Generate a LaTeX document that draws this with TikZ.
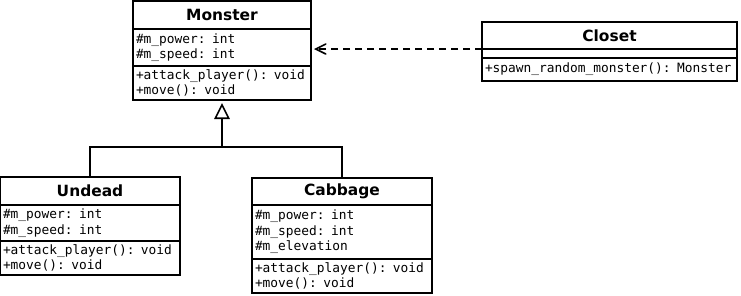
\documentclass[tikz,border=0pt]{standalone}
\usepackage{fontspec}
\newfontfamily\umlsans{DejaVu Sans}
\newfontfamily\umlmono{DejaVu Sans Mono}
\usetikzlibrary{arrows.meta}

\tikzset{
  % one compartment of a class box: title, attributes or operations
  compart/.style={draw, line width=1.6bp, outer sep=0pt, inner xsep=3bp,
    inner ysep=0pt, anchor=north west},
  classtitle/.style={compart, align=center,
    font=\umlsans\bfseries\fontsize{15.5}{18}\selectfont},
  members/.style={compart, align=left,
    font=\umlmono\fontsize{12.9}{15.5}\selectfont},
  conn/.style={line width=1.6bp},
  inherit/.style={conn, -{Triangle[open, length=16bp, width=15.5bp]}, shorten >=3bp},
  depends/.style={conn, dash pattern=on 7bp off 5bp,
    -{Straight Barb[length=10bp, width=10bp, line cap=round]}, shorten >=3bp},
}

\begin{document}
\begin{tikzpicture}[x=1bp, y=-1bp]
\useasboundingbox (0,0) rectangle (741,295);

% Monster
\node[classtitle, text width=172bp, minimum height=28bp] (monster) at (133,1) {Monster};
\node[members, text width=172bp, minimum height=37bp] (monster-a) at (monster.south west)
  {\#m\_power: int\\\#m\_speed: int};
\node[members, text width=172bp, minimum height=34bp] (monster-m) at (monster-a.south west)
  {+attack\_player(): void\\+move(): void};

% Closet
\node[classtitle, text width=249bp, minimum height=27bp] (closet) at (482,22) {Closet};
\node[members, text width=249bp, minimum height=9bp] (closet-a) at (closet.south west) {};
\node[members, text width=249bp, minimum height=23bp] (closet-m) at (closet-a.south west)
  {+spawn\_random\_monster(): Monster};

% Undead
\node[classtitle, text width=174bp, minimum height=28bp] (undead) at (0,177) {Undead};
\node[members, text width=174bp, minimum height=36bp] (undead-a) at (undead.south west)
  {\#m\_power: int\\\#m\_speed: int};
\node[members, text width=174bp, minimum height=34bp] (undead-m) at (undead-a.south west)
  {+attack\_player(): void\\+move(): void};

% Cabbage
\node[classtitle, text width=174bp, minimum height=27bp] (cabbage) at (252,178) {Cabbage};
\node[members, text width=174bp, minimum height=54bp] (cabbage-a) at (cabbage.south west)
  {\#m\_power: int\\\#m\_speed: int\\\#m\_elevation};
\node[members, text width=174bp, minimum height=34bp] (cabbage-m) at (cabbage-a.south west)
  {+attack\_player(): void\\+move(): void};

% generalization: Undead and Cabbage derive from Monster
\coordinate (bus) at (monster-m.south |- 0,147);
\draw[conn] (undead.north) |- (bus) -| (cabbage.north);
\draw[inherit] (bus) -- (monster-m.south);

% dependency: Closet uses Monster
\draw[depends] (closet-a.north west) -- (monster-a.east |- closet-a.north west);
\end{tikzpicture}
\end{document}
